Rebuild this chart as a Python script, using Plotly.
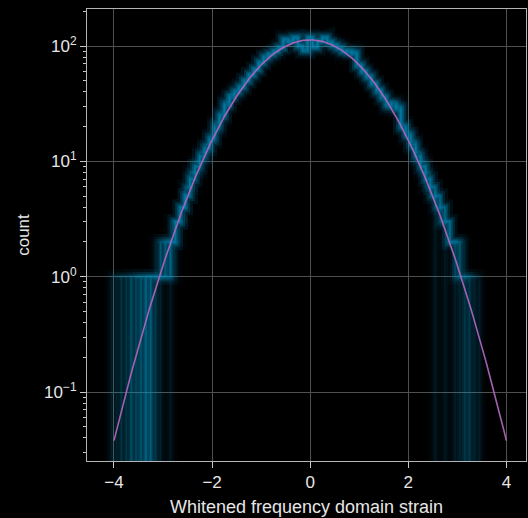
import numpy as np
import plotly.graph_objects as go

# Histogram binning: width 0.1, bin centres -4.0 ... 4.0
bin_start = -4.05
bin_width = 0.1
n_bins = 81

# Counts per bin for each realisation (centres -4.0 -> 4.0)
run_01 = [1, 1, 0, 1, 0, 1, 1, 0, 1, 1, 1,
          2, 2, 3, 4, 5, 6, 9, 11, 13, 16,
          20, 25, 31, 37, 40, 44, 50, 56, 63, 72,
          80, 85, 90, 97, 113, 110, 118, 100, 92, 118,
          98, 110, 118, 108, 101, 96, 90, 89, 87, 68,
          60, 54, 47, 41, 36, 31, 31, 29, 20, 17,
          14, 11, 9, 7, 6, 5, 4, 3, 2, 2,
          1, 1, 1, 1, 0, 0, 0, 0, 0, 0]
run_02 = [0, 0, 1, 1, 0, 1, 0, 1, 1, 2, 1,
          1, 3, 3, 4, 5, 8, 8, 12, 13, 17,
          22, 24, 33, 35, 42, 46, 49, 58, 61, 74,
          83, 82, 93, 95, 117, 107, 121, 97, 95, 115,
          95, 113, 121, 105, 104, 93, 92, 86, 90, 66,
          62, 52, 49, 39, 38, 29, 33, 27, 21, 16,
          13, 12, 8, 7, 5, 5, 4, 3, 2, 2,
          1, 1, 0, 0, 0, 0, 0, 0, 0, 0]
run_03 = [0, 0, 0, 0, 1, 1, 0, 1, 1, 1, 2,
          2, 2, 3, 3, 5, 7, 10, 10, 12, 15,
          19, 27, 30, 38, 39, 43, 52, 55, 65, 70,
          77, 87, 88, 100, 110, 113, 116, 103, 89, 121,
          101, 107, 115, 111, 98, 99, 88, 92, 84, 70,
          58, 56, 45, 43, 34, 33, 29, 31, 19, 18,
          15, 10, 9, 8, 6, 4, 4, 3, 2, 1,
          1, 0, 0, 0, 0, 0, 0, 0, 0, 0]
run_04 = [0, 0, 0, 0, 0, 1, 1, 0, 1, 1, 1,
          1, 2, 3, 4, 6, 7, 9, 11, 14, 16,
          21, 25, 32, 36, 41, 44, 50, 57, 62, 73,
          81, 84, 92, 96, 115, 109, 119, 99, 93, 117,
          97, 111, 119, 107, 102, 95, 91, 88, 88, 67,
          61, 53, 48, 40, 37, 30, 32, 28, 20, 17,
          14, 11, 10, 6, 6, 5, 3, 3, 2, 1,
          0, 0, 0, 0, 0, 0, 0, 0, 0, 0]
run_05 = [0, 0, 0, 0, 0, 0, 0, 1, 1, 1, 2,
          2, 1, 3, 4, 5, 7, 9, 12, 13, 15,
          20, 23, 31, 35, 40, 46, 48, 56, 64, 70,
          79, 86, 89, 98, 112, 112, 117, 102, 90, 120,
          100, 109, 117, 109, 100, 97, 89, 90, 86, 69,
          59, 55, 46, 42, 35, 32, 30, 30, 21, 16,
          13, 12, 9, 7, 5, 0, 0, 0, 0, 0,
          0, 0, 0, 0, 0, 0, 0, 0, 0, 0]
run_06 = [0, 0, 0, 0, 0, 0, 0, 0, 1, 1, 1,
          2, 2, 3, 4, 5, 8, 10, 11, 12, 17,
          18, 26, 33, 38, 38, 44, 52, 54, 63, 74,
          82, 83, 91, 94, 116, 108, 122, 98, 94, 114,
          94, 114, 122, 104, 105, 92, 93, 85, 91, 65,
          63, 51, 49, 40, 38, 30, 33, 28, 19, 18,
          15, 11, 8, 7, 6, 4, 4, 3, 2, 2,
          2, 1, 0, 0, 0, 0, 0, 0, 0, 0]
run_07 = [0, 0, 0, 0, 0, 0, 0, 0, 0, 0, 1,
          1, 2, 3, 4, 5, 7, 8, 11, 14, 16,
          21, 25, 29, 36, 42, 42, 50, 57, 61, 72,
          78, 88, 87, 99, 111, 111, 115, 101, 91, 122,
          102, 106, 114, 112, 97, 100, 87, 93, 83, 71,
          57, 57, 45, 42, 34, 32, 29, 30, 20, 17,
          14, 10, 9, 7, 5, 5, 3, 2, 2, 0,
          0, 0, 0, 0, 0, 0, 0, 0, 0, 0]
run_08 = [0, 0, 0, 0, 0, 0, 0, 0, 0, 0, 0,
          0, 2, 2, 4, 6, 7, 9, 10, 13, 15,
          20, 24, 31, 37, 40, 45, 51, 56, 64, 71,
          80, 84, 90, 97, 114, 110, 118, 100, 92, 118,
          98, 110, 118, 108, 101, 96, 90, 89, 87, 68,
          60, 54, 47, 41, 36, 31, 31, 29, 20, 16,
          13, 11, 9, 8, 6, 5, 4, 3, 2, 2,
          1, 1, 1, 0, 0, 0, 0, 0, 0, 0]
run_09 = [0, 1, 1, 0, 1, 1, 0, 1, 0, 1, 1,
          2, 2, 3, 4, 5, 7, 9, 11, 13, 16,
          19, 26, 32, 35, 41, 43, 49, 58, 62, 73,
          84, 85, 92, 96, 109, 114, 120, 104, 88, 116,
          96, 108, 120, 110, 103, 94, 91, 87, 89, 66,
          62, 53, 48, 39, 37, 31, 32, 29, 21, 17,
          14, 12, 9, 6, 6, 4, 3, 0, 0, 0,
          0, 0, 0, 0, 0, 0, 0, 0, 0, 0]
run_10 = [0, 0, 0, 0, 0, 0, 1, 1, 0, 1, 2,
          1, 2, 3, 4, 6, 8, 9, 12, 14, 15,
          22, 25, 30, 38, 39, 45, 50, 55, 63, 71,
          76, 86, 89, 98, 116, 106, 117, 96, 96, 119,
          99, 112, 116, 106, 99, 98, 89, 91, 85, 70,
          58, 55, 46, 43, 35, 30, 30, 28, 19, 18,
          15, 11, 10, 7, 5, 5, 4, 3, 2, 2,
          1, 0, 0, 0, 0, 0, 0, 0, 0, 0]
runs = [run_01, run_02, run_03, run_04, run_05,
        run_06, run_07, run_08, run_09, run_10]

# Gaussian reference model
model_peak = 113.0
model_mean = 0.0
model_sigma = 1.0
model_span = (-4.0, 4.0)

x_tick_vals = [-4, -2, 0, 2, 4]
y_tick_vals = [0.1, 1, 10, 100]
y_tick_text = ["10<sup>\u22121</sup>", "10<sup>0</sup>", "10<sup>1</sup>", "10<sup>2</sup>"]
y_minor_vals = [m * 10.0 ** d for d in (-2, -1, 0, 1, 2) for m in range(2, 10)]

FONT = "Liberation Sans, Arial, Helvetica, sans-serif"
HIST_RGB = "25,150,205"

edges = bin_start + bin_width * np.arange(n_bins + 1)
floor = 1e-4  # empty bins drop below the visible range


def outline(counts):
    c = np.asarray(counts, dtype=float)
    c = np.where(c > 0, c, floor)
    xs = np.repeat(edges, 2)
    ys = np.concatenate([[floor], np.repeat(c, 2), [floor]])
    return xs, ys


fig = go.Figure()

# soft glow built from stacked translucent strokes
for width, alpha in [(16, 0.018), (10, 0.03), (6, 0.04), (3, 0.05), (1.2, 0.06)]:
    for counts in runs:
        xs, ys = outline(counts)
        fig.add_trace(go.Scatter(
            x=xs, y=ys, mode="lines",
            line=dict(color=f"rgba({HIST_RGB},{alpha})", width=width),
            hoverinfo="skip", showlegend=False))

xm = np.linspace(model_span[0], model_span[1], 401)
ym = model_peak * np.exp(-0.5 * ((xm - model_mean) / model_sigma) ** 2)
fig.add_trace(go.Scatter(
    x=xm, y=ym, mode="lines",
    line=dict(color="rgba(175,100,185,0.95)", width=1.6),
    hoverinfo="skip", showlegend=False))

axis_common = dict(
    showline=True, linecolor="#b4b4b4", linewidth=1, mirror=True,
    ticks="outside", ticklen=6, tickwidth=1, tickcolor="#c8c8c8",
    showgrid=True, gridcolor="#505050", gridwidth=1, zeroline=False,
    tickfont=dict(family=FONT, size=17, color="#e6e6e6"),
)

fig.update_layout(
    width=528, height=518,
    margin=dict(l=87, r=2, t=9, b=57, autoexpand=False),
    paper_bgcolor="black", plot_bgcolor="black",
    showlegend=False,
    xaxis=dict(
        range=[-4.55, 4.40], tickmode="array", tickvals=x_tick_vals,
        title=dict(text="Whitened frequency domain strain",
                   font=dict(family=FONT, size=18, color="#e6e6e6"), standoff=8),
        **axis_common),
    yaxis=dict(
        type="log", range=[-1.598, 2.321],
        tickmode="array", tickvals=y_tick_vals, ticktext=y_tick_text,
        minor=dict(tickmode="array", tickvals=y_minor_vals, ticks="outside",
                   ticklen=3, tickcolor="#c8c8c8", showgrid=False),
        title=dict(text="count",
                   font=dict(family=FONT, size=17, color="#e6e6e6"), standoff=10),
        **axis_common),
)

fig.write_html("out.html")
